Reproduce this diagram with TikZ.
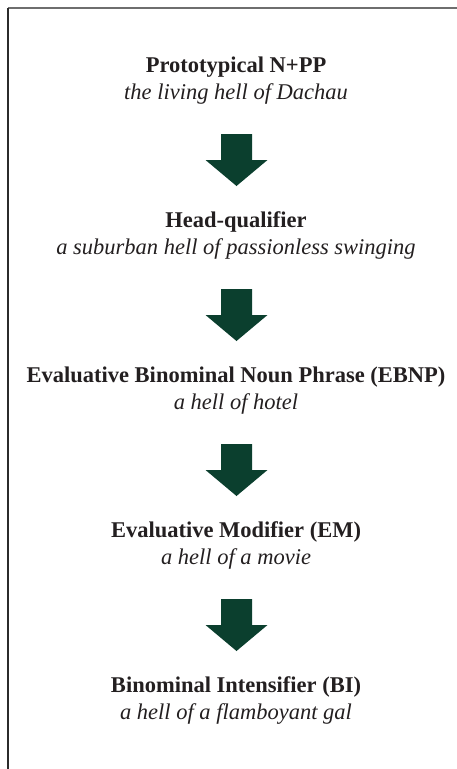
\documentclass[tikz,border=0pt]{standalone}
\usepackage{fontspec}
\setmainfont{Liberation Serif}
\usetikzlibrary{calc}
\definecolor{arrowgreen}{HTML}{0B3F2E}
\definecolor{ink}{HTML}{231F20}
\definecolor{rulegray}{HTML}{6E6E6E}
\definecolor{ruledark}{HTML}{2B2B2B}
% block arrow hanging below a given point (shaft 31 wide, head 62 wide)
\newcommand\flowarrow[1]{%
  \fill[arrowgreen] ($(#1)+(-15.5,0)$) -- ++(31,0) -- ++(0,26) -- ++(15.5,0)
    -- ++(-31,26) -- ++(-31,-26) -- ++(15.5,0) -- cycle;}
\begin{document}
\begin{tikzpicture}[x=1pt,y=-1pt,
  stage/.style={font=\fontsize{22.5}{26}\selectfont\bfseries, text=ink, anchor=base, inner sep=0pt},
  example/.style={font=\fontsize{22.5}{26}\selectfont\itshape, text=ink, anchor=base, inner sep=0pt}]
\useasboundingbox (0,0) rectangle (457,769);
% frame: top and left rules
\draw[rulegray, line width=1.2pt] (8,8) -- (457,8);
\draw[ruledark, line width=1.2pt] (8,769) -- (8,8);

\node[stage]   (s1) at (236,72)  {Prototypical N+PP};
\node[example] (e1) at (236,99)  {the living hell of Dachau};
\node[stage]   (s2) at (236,227) {Head-qualifier};
\node[example] (e2) at (236,254) {a suburban hell of passionless swinging};
\node[stage]   (s3) at (236,382) {Evaluative Binominal Noun Phrase (EBNP)};
\node[example] (e3) at (236,409) {a hell of hotel};
\node[stage]   (s4) at (236,537) {Evaluative Modifier (EM)};
\node[example] (e4) at (236,564) {a hell of a movie};
\node[stage]   (s5) at (236,692) {Binominal Intensifier (BI)};
\node[example] (e5) at (236,719) {a hell of a flamboyant gal};

\coordinate (a1) at ($(s1.base)+(0.5,62)$);
\coordinate (a2) at ($(s2.base)+(0.5,62)$);
\coordinate (a3) at ($(s3.base)+(0.5,62)$);
\coordinate (a4) at ($(s4.base)+(0.5,62)$);
\flowarrow{a1}
\flowarrow{a2}
\flowarrow{a3}
\flowarrow{a4}
\end{tikzpicture}
\end{document}
